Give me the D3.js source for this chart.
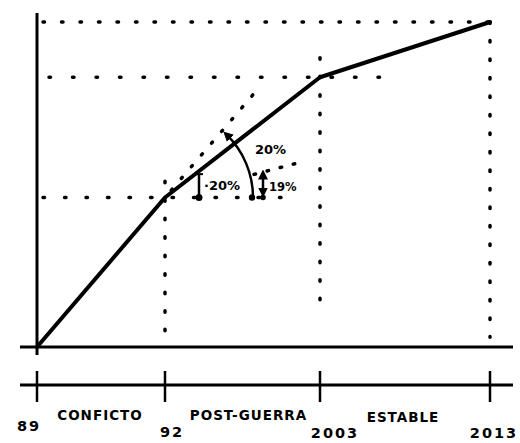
<!DOCTYPE html>
<html>
<head>
<meta charset="utf-8">
<script src="https://cdn.jsdelivr.net/npm/d3@7"></script>
<style>
  html, body { margin: 0; padding: 0; background: #fff; }
  svg { display: block; }
  text { font-family: "DejaVu Sans", sans-serif; font-weight: bold; fill: #000; }
</style>
</head>
<body>
<svg id="chart" width="520" height="443"></svg>
<script>
// Growth path over the periods (index, top = 100)
const years = [1989, 1992, 2003, 2013];
const yearLabels = ["89", "92", "2003", "2013"];
const values = [0, 46, 83, 100];
const periods = ["CONFICTO", "POST-GUERRA", "ESTABLE"];
const slopeLabels = ["20%", "·20%", "19%"];

const svg = d3.select("#chart");

// piecewise time axis: each period gets its own stretch
const x = d3.scaleLinear().domain(years).range([37, 165, 320, 490]);
const y = d3.scaleLinear().domain([0, 100]).range([347, 22]);

const ink = "#000";
const dotted = (sel, gap = 15) => sel.attr("stroke", ink).attr("stroke-width", 3.5)
  .attr("stroke-linecap", "round").attr("stroke-dasharray", `1.5 ${gap}`).attr("fill", "none");

const defs = svg.append("defs");
defs.append("marker").attr("id", "arrow").attr("viewBox", "0 0 10 10")
  .attr("refX", 6).attr("refY", 5).attr("markerWidth", 4).attr("markerHeight", 4)
  .attr("orient", "auto-start-reverse")
  .append("path").attr("d", "M0,0 L10,5 L0,10 z").attr("fill", ink);

// guide lines: level of each value and vertical drops at each break
const hGuides = [
  { v: values[3], x0: x(years[0]) + 6, x1: x(years[3]), gap: 17 },
  { v: values[2], x0: x(years[0]) + 12, x1: x(years[2]) + 80, gap: 22 },
  { v: values[1], x0: x(years[0]) + 6, x1: x(years[2]) - 30, gap: 20 }
];
svg.selectAll(".hguide").data(hGuides).join("line").attr("class", "hguide")
  .attr("x1", d => d.x0).attr("x2", d => d.x1)
  .attr("y1", d => y(d.v)).attr("y2", d => y(d.v))
  .each(function (d) { d3.select(this).call(dotted, d.gap); });

const vGuides = [
  { yr: years[1], v0: values[1] + 5, v1: 3 },
  { yr: years[2], v0: values[2] + 6, v1: 10 },
  { yr: years[3], v0: values[3], v1: 3 }
];
svg.selectAll(".vguide").data(vGuides).join("line").attr("class", "vguide")
  .attr("x1", d => x(d.yr)).attr("x2", d => x(d.yr))
  .attr("y1", d => y(d.v0)).attr("y2", d => y(d.v1))
  .call(dotted, 17);

// axes
svg.append("line").attr("x1", x(years[0])).attr("x2", x(years[0]))
  .attr("y1", 13).attr("y2", y(0) + 8).attr("stroke", ink).attr("stroke-width", 3);
svg.append("line").attr("x1", 20).attr("x2", 513)
  .attr("y1", y(0)).attr("y2", y(0)).attr("stroke", ink).attr("stroke-width", 3);

// timeline below the chart
const tlY = 385;
svg.append("line").attr("x1", 20).attr("x2", 513)
  .attr("y1", tlY).attr("y2", tlY).attr("stroke", ink).attr("stroke-width", 3);
svg.selectAll(".tick").data(years).join("line").attr("class", "tick")
  .attr("x1", d => x(d)).attr("x2", d => x(d))
  .attr("y1", tlY - 14).attr("y2", tlY + 17)
  .attr("stroke", ink).attr("stroke-width", 2.5);

const labelShift = [-8, 7, 15, 4];
const labelDrop = [46, 52, 53, 53];
svg.selectAll(".year").data(years).join("text").attr("class", "year")
  .attr("x", (d, i) => x(d) + labelShift[i]).attr("y", (d, i) => tlY + labelDrop[i])
  .attr("text-anchor", "middle").attr("font-size", 14.5).attr("letter-spacing", 2)
  .text((d, i) => yearLabels[i]);

svg.selectAll(".period").data(periods).join("text").attr("class", "period")
  .attr("x", (d, i) => (x(years[i]) + x(years[i + 1])) / 2 + [-1, 6, -2][i])
  .attr("y", (d, i) => tlY + [35, 35, 37][i])
  .attr("text-anchor", "middle").attr("font-size", 13.5).attr("letter-spacing", 1)
  .text(d => d);

// angle construction at the 1992 break
const p0 = [x(years[0]), y(values[0])];
const p1 = [x(years[1]), y(values[1])];
const extAng = Math.atan2(p1[1] - p0[1], p1[0] - p0[0]);
svg.append("line")
  .attr("x1", p1[0] - 6 * Math.cos(extAng)).attr("y1", p1[1] - 6 * Math.sin(extAng))
  .attr("x2", p1[0] + 140 * Math.cos(extAng)).attr("y2", p1[1] + 140 * Math.sin(extAng))
  .call(dotted, 14);

// flatter reference direction
const flatAng = Math.atan2(-0.26, 1);
svg.append("line")
  .attr("x1", p1[0] + 92 * Math.cos(flatAng)).attr("y1", p1[1] + 92 * Math.sin(flatAng))
  .attr("x2", p1[0] + 142 * Math.cos(flatAng)).attr("y2", p1[1] + 142 * Math.sin(flatAng))
  .call(dotted, 12);

// the growth line
const line = d3.line().x((d, i) => x(years[i])).y(d => y(d));
svg.append("path").datum(values).attr("d", line)
  .attr("fill", "none").attr("stroke", ink).attr("stroke-width", 4)
  .attr("stroke-linejoin", "round").attr("stroke-linecap", "round");

// arc showing the change in slope
const r = 88;
const arcPath = d3.path();
arcPath.moveTo(p1[0] + r, p1[1]);
arcPath.arc(p1[0], p1[1], r, 0, extAng + 0.06, true);
svg.append("path").attr("d", arcPath.toString())
  .attr("fill", "none").attr("stroke", ink).attr("stroke-width", 2.5)
  .attr("marker-end", "url(#arrow)");
svg.append("circle").attr("cx", p1[0] + r - 1).attr("cy", p1[1]).attr("r", 3.2).attr("fill", ink);
svg.append("text").attr("x", p1[0] + r + 2).attr("y", p1[1] - 44)
  .attr("font-size", 13).text(slopeLabels[0]);

// small rise marker on the post-war segment
const sx = p1[0] + 34;
const segSlope = (y(values[2]) - p1[1]) / (x(years[2]) - p1[0]);
const sTop = p1[1] + segSlope * 34 + 3;
svg.append("line").attr("x1", sx).attr("x2", sx).attr("y1", sTop).attr("y2", p1[1])
  .attr("stroke", ink).attr("stroke-width", 2.5);
svg.append("line").attr("x1", sx - 5).attr("x2", sx + 4).attr("y1", sTop).attr("y2", sTop)
  .attr("stroke", ink).attr("stroke-width", 2);
svg.append("circle").attr("cx", sx).attr("cy", p1[1]).attr("r", 3.5).attr("fill", ink);
svg.append("text").attr("x", sx + 5).attr("y", p1[1] - 8)
  .attr("font-size", 13).text(slopeLabels[1]);

// double arrow for the stable-period rise
const dx2 = p1[0] + r + 10;
svg.append("line").attr("x1", dx2).attr("x2", dx2).attr("y1", p1[1] - 4).attr("y2", p1[1] - 24)
  .attr("stroke", ink).attr("stroke-width", 2.5)
  .attr("marker-start", "url(#arrow)").attr("marker-end", "url(#arrow)");
svg.append("circle").attr("cx", dx2).attr("cy", p1[1]).attr("r", 2.8).attr("fill", ink);
svg.append("text").attr("x", dx2 + 6).attr("y", p1[1] - 7)
  .attr("font-size", 11.5).text(slopeLabels[2]);
</script>
</body>
</html>
